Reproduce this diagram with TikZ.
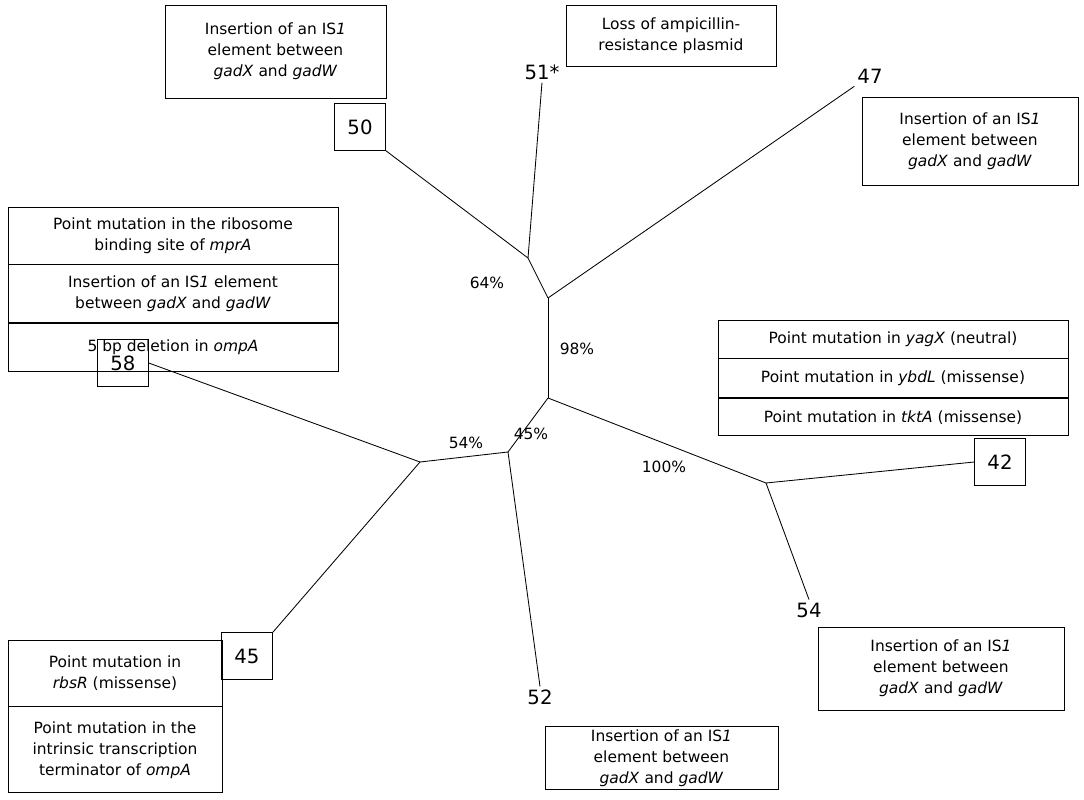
\documentclass[tikz,border=0pt]{standalone}
\usepackage{fontspec}
\setmainfont{DejaVu Sans}
\usetikzlibrary{positioning}
\tikzstyle{l2}=[line width=0.6]
\tikzstyle{info}=[draw=black, l2, align=center, font=\fontsize{11}{15}\selectfont, inner sep=2pt]
\tikzstyle{leaf}=[font=\fontsize{14}{16}\selectfont, inner sep=2pt]
\tikzstyle{boxleaf}=[leaf, draw=black, l2, minimum width=36pt, minimum height=33pt]
\tikzstyle{pct}=[font=\fontsize{11}{13}\selectfont]
\newcommand{\isone}{IS\textit{1}}
\begin{document}
\begin{tikzpicture}[x=0.025cm, y=-0.025cm]
    \useasboundingbox (0,0) rectangle (1084,800);
    % inner junctions
    \coordinate (a) at (528,258);
    \coordinate (b) at (548,298);
    \coordinate (c) at (548,398);
    \coordinate (d) at (508,452);
    \coordinate (e) at (420,462);
    \coordinate (f) at (766,483);
    % leaves
    \node[boxleaf] at (360,127) (s50) {50};
    \node[leaf] at (542,72) (s51) {51*};
    \node[leaf] at (870,76) (s47) {47};
    \node[boxleaf] at (123,363) (s58) {58};
    \node[boxleaf] at (247,656) (s45) {45};
    \node[boxleaf] at (1000,462) (s42) {42};
    \node[leaf] at (809,610) (s54) {54};
    \node[leaf] at (540,697) (s52) {52};

    \draw[l2] (a) -- (s50.south east);
    \draw[l2] (a) -- (s51.south);
    \draw[l2] (b) -- (a);
    \draw[l2] (b) -- (s47.south west);
    \draw[l2] (b) -- (c);
    \draw[l2] (c) -- (d);
    \draw[l2] (c) -- (f);
    \draw[l2] (d) -- (e);
    \draw[l2] (d) -- (s52.north);
    \draw[l2] (e) -- (s58.east);
    \draw[l2] (e) -- (s45.north east);
    \draw[l2] (f) -- (s42.west);
    \draw[l2] (f) -- (s54.north);

    \node[pct] at (487,283) (p64) {64\%};
    \node[pct] at (577,349) (p98) {98\%};
    \node[pct] at (531,434) (p45) {45\%};
    \node[pct] at (466,443) (p54) {54\%};
    \node[pct] at (664,467) (p100) {100\%};

    % annotation boxes
    \node[info, minimum width=221*0.025cm, minimum height=93*0.025cm] at (275.5,51.5) (t50)
        {Insertion of an \isone\\element between\\\textit{gadX} and \textit{gadW}};
    \node[info, minimum width=210*0.025cm, minimum height=61*0.025cm] at (671,35.5) (t51)
        {Loss of ampicillin-\\resistance plasmid};
    \node[info, minimum width=216*0.025cm, minimum height=88*0.025cm] at (970,141) (t47)
        {Insertion of an \isone\\element between\\\textit{gadX} and \textit{gadW}};
    \node[info, minimum width=330*0.025cm, minimum height=57*0.025cm] at (173,235.5) (t58a)
        {Point mutation in the ribosome\\binding site of \textit{mprA}};
    \node[info, minimum width=330*0.025cm, minimum height=58*0.025cm, below=0pt of t58a] (t58b)
        {Insertion of an \isone{} element\\between \textit{gadX} and \textit{gadW}};
    \node[info, minimum width=330*0.025cm, minimum height=48*0.025cm, below=0pt of t58b] (t58c)
        {5 bp deletion in \textit{ompA}};
    \node[info, minimum width=350*0.025cm, minimum height=38*0.025cm] at (893,339) (t42a)
        {Point mutation in \textit{yagX} (neutral)};
    \node[info, minimum width=350*0.025cm, minimum height=39*0.025cm, below=0pt of t42a] (t42b)
        {Point mutation in \textit{ybdL} (missense)};
    \node[info, minimum width=350*0.025cm, minimum height=37*0.025cm, below=0pt of t42b] (t42c)
        {Point mutation in \textit{tktA} (missense)};
    \node[info, minimum width=246*0.025cm, minimum height=83*0.025cm] at (941,668.5) (t54)
        {Insertion of an \isone\\element between\\\textit{gadX} and \textit{gadW}};
    \node[info, minimum width=214*0.025cm, minimum height=66*0.025cm] at (115,673) (t45a)
        {Point mutation in\\\textit{rbsR} (missense)};
    \node[info, minimum width=214*0.025cm, minimum height=86*0.025cm, below=0pt of t45a] (t45b)
        {Point mutation in the\\intrinsic transcription\\terminator of \textit{ompA}};
    \node[info, minimum width=233*0.025cm, minimum height=62*0.025cm] at (661.5,758) (t52)
        {Insertion of an \isone\\element between\\\textit{gadX} and \textit{gadW}};
\end{tikzpicture}
\end{document}
